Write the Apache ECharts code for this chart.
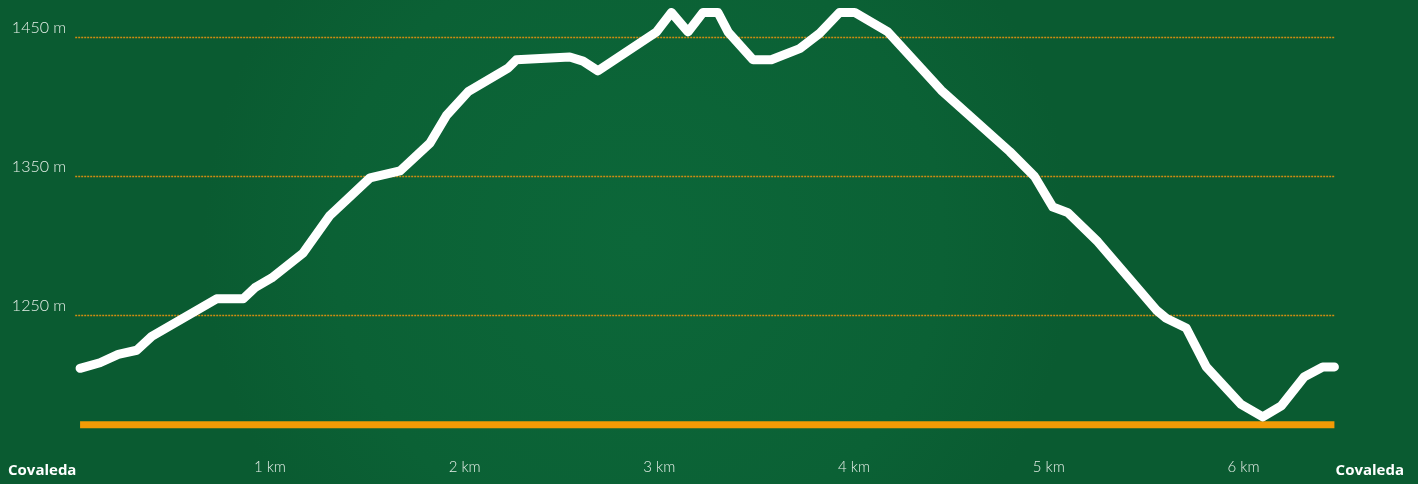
<!DOCTYPE html>
<html>
<head>
<meta charset="utf-8">
<script src="https://cdn.jsdelivr.net/npm/echarts@6/dist/echarts.min.js"></script>
<style>
html,body{margin:0;padding:0;background:#0b6135;}
#chart{width:1418px;height:484px;}
</style>
</head>
<body>
<div id="chart"></div>
<script>
// Distance along the route (km)
const distanceKm = [0.025,0.127,0.221,0.316,0.393,0.726,0.863,0.923,1.009,1.171,1.308,1.514,1.668,1.822,1.907,2.018,2.223,2.266,2.540,2.608,2.685,2.985,3.062,3.147,3.224,3.301,3.353,3.481,3.575,3.721,3.823,3.926,4.003,4.174,4.448,4.799,4.927,5.021,5.098,5.252,5.552,5.603,5.706,5.809,5.988,6.099,6.194,6.313,6.407,6.467];
// Elevation (m)
const elevationM = [1212,1216,1222,1225,1235,1262,1262,1270,1277,1295,1322,1349,1354,1374,1394,1411,1428,1434,1436,1433,1426,1454,1468,1454,1468,1468,1454,1434,1434,1442,1453,1468,1468,1454,1412,1368,1350,1328,1324,1303,1254,1248,1241,1213,1186,1177,1185,1206,1213,1213];
// Baseline elevation
const baseElevation = 1171.4;
const yTicks = [1250,1350,1450];
const xTicks = [1,2,3,4,5,6];
const startName = 'Covaleda';
const endName = 'Covaleda';

const chart = echarts.init(document.getElementById('chart'));
const lineData = distanceKm.map((d,i)=>[d, elevationM[i]]);
const baseData = [[distanceKm[0], baseElevation],[distanceKm[distanceKm.length-1], baseElevation]];

chart.setOption({
  backgroundColor: {
    type:'radial', x:0.45, y:0.5, r:0.9,
    colorStops:[{offset:0,color:'#0c6739'},{offset:0.7,color:'#0b6135'},{offset:1,color:'#0a5b31'}]
  },
  animation:false,
  grid:{left:75.2, right:83, top:2.75, bottom:29.5, containLabel:false},
  xAxis:{
    type:'value', min:0, max:6.47, interval:1,
    axisLine:{show:false}, axisTick:{show:false}, splitLine:{show:false},
    axisLabel:{
      margin:5, color:'#e6efe8', fontSize:15, fontFamily:'Lato', fontWeight:300,
      formatter:v=> xTicks.indexOf(v)>=0 ? v+' km' : ''
    }
  },
  yAxis:{
    type:'value', min:1150, max:1475, interval:100,
    axisLine:{show:false}, axisTick:{show:false},
    splitLine:{show:true, showMinLine:false, showMaxLine:false,
      lineStyle:{type:[2,1], color:'#d08c12', width:1.4}},
    axisLabel:{
      margin:9, color:'#e6efe8', fontSize:16, fontFamily:'Lato', fontWeight:300,
      verticalAlign:'bottom', lineHeight:16, padding:[0,0,2,0],
      formatter:v=> yTicks.indexOf(v)>=0 ? v+' m' : ''
    }
  },
  graphic:[
    {type:'text', left:8, top:463, style:{text:startName, fill:'#ffffff', font:'bold 15px "Open Sans"'}},
    {type:'text', right:14, top:463, style:{text:endName, fill:'#ffffff', font:'bold 15px "Open Sans"'}}
  ],
  series:[
    {type:'line', data:baseData, symbol:'none', silent:true, z:2,
      lineStyle:{color:'#f29b05', width:7, cap:'butt'}},
    {type:'line', data:lineData, symbol:'none', silent:true, z:3, clip:false,
      lineStyle:{color:'#ffffff', width:9, cap:'round', join:'round'}}
  ]
});
</script>
</body>
</html>
